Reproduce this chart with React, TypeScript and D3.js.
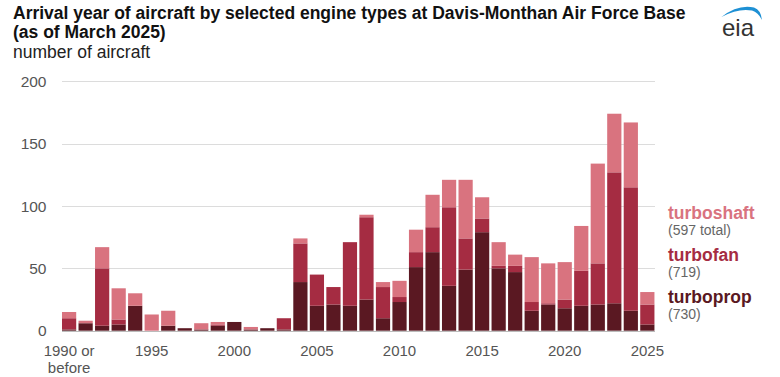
import React, { useEffect, useRef } from "react";
import * as d3 from "d3";

const categories = [
  "1990","1991","1992","1993","1994","1995","1996","1997","1998","1999",
  "2000","2001","2002","2003","2004","2005","2006","2007","2008","2009",
  "2010","2011","2012","2013","2014","2015","2016","2017","2018","2019",
  "2020","2021","2022","2023","2024","2025",
];
const turboprop = [1,6,4,5,20,0,4,2,1,4,7,1,2,1,39,20,21,20,25,10,23,51,63,36,49,79,50,47,16,21,18,20,21,22,16,5];
const turbofan = [9,0,46,4,0,0,0,0,0,1,0,0,0,9,31,25,14,51,66,25,4,12,20,63,25,11,2,5,7,1,7,28,33,105,99,16];
const turboshaft = [5,2,17,25,10,13,12,0,5,2,0,2,0,0,4,0,0,0,2,4,13,18,26,22,47,17,19,9,36,32,30,36,80,47,52,10];
const yTicks = [0, 50, 100, 150, 200];
const xTickLabels: [string, string[]][] = [
  ["1990", ["1990 or", "before"]],
  ["1995", ["1995"]],
  ["2000", ["2000"]],
  ["2005", ["2005"]],
  ["2010", ["2010"]],
  ["2015", ["2015"]],
  ["2020", ["2020"]],
  ["2025", ["2025"]],
];
const seriesKeys = ["turboprop", "turbofan", "turboshaft"];
const legendItems = [
  { key: "turboshaft", label: "turboshaft", sub: "(597 total)" },
  { key: "turbofan", label: "turbofan", sub: "(719)" },
  { key: "turboprop", label: "turboprop", sub: "(730)" },
];

const COLORS: Record<string, string> = {
  turboprop: "#5a1822",
  turbofan: "#a52c42",
  turboshaft: "#d9737f",
};

export default function App() {
  const ref = useRef<SVGSVGElement>(null);

  useEffect(() => {
    document.body.style.margin = "0";
    const svg = d3.select(ref.current);
    svg.selectAll("*").remove();
    const font = "'Liberation Sans', Arial, sans-serif";

    const x = d3.scaleBand<string>().domain(categories).range([60.84, 655.6]).paddingInner(0.14).paddingOuter(0.07);
    const y = d3.scaleLinear().domain([0, 200]).range([330.7, 81.3]);

    const rows = categories.map((c, i) => ({
      cat: c,
      turboprop: turboprop[i],
      turbofan: turbofan[i],
      turboshaft: turboshaft[i],
    }));
    const stacked = d3.stack<any>().keys(seriesKeys)(rows);

    // title
    const t = svg.append("g").attr("font-family", font).attr("fill", "#111");
    t.append("text").attr("x", 13).attr("y", 19.3).attr("font-size", 17.5).attr("font-weight", "bold")
      .text("Arrival year of aircraft by selected engine types at Davis-Monthan Air Force Base");
    t.append("text").attr("x", 13).attr("y", 37.5).attr("font-size", 17.5).attr("font-weight", "bold")
      .text("(as of March 2025)");
    t.append("text").attr("x", 13).attr("y", 57.5).attr("font-size", 17.5).attr("fill", "#222")
      .text("number of aircraft");

    // grid
    const g = svg.append("g");
    g.selectAll("line.grid").data(yTicks).join("line")
      .attr("x1", 62).attr("x2", 655)
      .attr("y1", (d) => Math.round(y(d)) + 0.5).attr("y2", (d) => Math.round(y(d)) + 0.5)
      .attr("stroke", (d) => (d === 0 ? "#bbb" : "#dcdcdc")).attr("stroke-width", 1);

    g.selectAll("text.ytick").data(yTicks).join("text")
      .attr("x", 46.5).attr("y", (d) => y(d) + 5.5)
      .attr("text-anchor", "end").attr("font-family", font).attr("font-size", 15.5).attr("fill", "#555")
      .text((d) => String(d));

    // bars
    stacked.forEach((layer) => {
      g.append("g").attr("fill", COLORS[layer.key])
        .selectAll("rect").data(layer).join("rect")
        .attr("x", (d: any) => x(d.data.cat)!)
        .attr("width", x.bandwidth())
        .attr("y", (d: any) => y(d[1]))
        .attr("height", (d: any) => Math.max(0, y(d[0]) - y(d[1])));
    });

    // x labels
    xTickLabels.forEach(([cat, lines]) => {
      const cx = x(cat)! + x.bandwidth() / 2;
      lines.forEach((ln, i) => {
        g.append("text").attr("x", cx).attr("y", 356 + i * 16.5)
          .attr("text-anchor", "middle").attr("font-family", font).attr("font-size", 15).attr("fill", "#555")
          .text(ln);
      });
    });

    // legend
    const lg = svg.append("g").attr("font-family", font);
    legendItems.forEach((item, i) => {
      const by = 219 + i * 42;
      lg.append("text").attr("x", 668).attr("y", by).attr("font-size", 17.5).attr("font-weight", "bold")
        .attr("fill", COLORS[item.key]).text(item.label);
      lg.append("text").attr("x", 668).attr("y", by + 16.3).attr("font-size", 14).attr("fill", "#666")
        .text(item.sub);
    });

    // eia logo
    const logo = svg.append("g");
    logo.append("path")
      .attr("d", "M721.5,17 Q738,4 754,7.5 Q761,10 762,20 Q758,12 752,10.5 Q738,8 721.5,17 Z")
      .attr("fill", "#1e90d4");
    logo.append("text").attr("x", 722).attr("y", 35.5).attr("font-family", font).attr("font-size", 24)
      .attr("fill", "#333").text("eia");
  }, []);

  return (
    <svg ref={ref} width={780} height={377} style={{ display: "block", background: "#fff" }} />
  );
}
